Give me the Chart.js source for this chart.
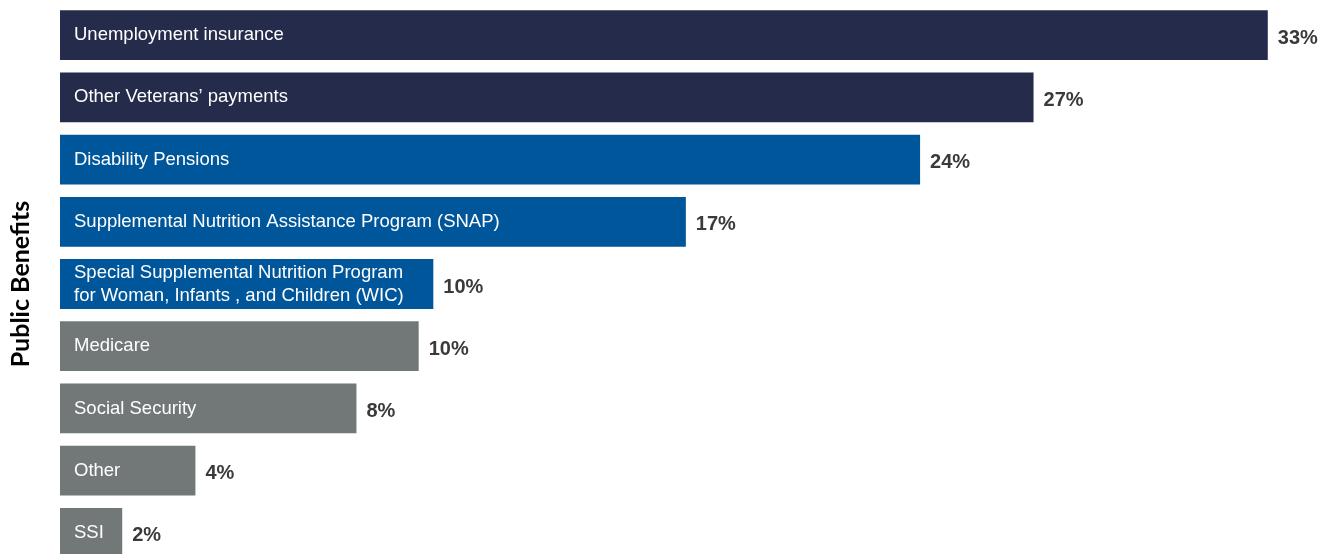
<!DOCTYPE html>
<html>
<head>
<meta charset="utf-8">
<script src="https://cdn.jsdelivr.net/npm/chart.js@4"></script>
<style>
  html, body { margin: 0; padding: 0; background: #ffffff; overflow: hidden; }
  #wrap { position: relative; width: 1333px; height: 566px; }
</style>
</head>
<body>
<div id="wrap"><canvas id="benefitsChart"></canvas></div>
<script>
// --- dados ---
const categories = [
    'Unemployment insurance',
    'Other Veterans\u2019 payments',
    'Disability Pensions',
    'Supplemental Nutrition Assistance Program (SNAP)',
    ['Special Supplemental Nutrition Program', 'for Woman, Infants , and Children (WIC)'],
    'Medicare',
    'Social Security',
    'Other',
    'SSI'
];
const shares = [33.0, 26.6, 23.5, 17.1, 10.2, 9.8, 8.1, 3.7, 1.7];
const shareLabels = ['33%', '27%', '24%', '17%', '10%', '10%', '8%', '4%', '2%'];
const groups = ['navy', 'navy', 'blue', 'blue', 'blue', 'gray', 'gray', 'gray', 'gray'];

const COLORS = { navy: '#252b4a', blue: '#00569a', gray: '#727878' };

// rótulos dentro e à direita das barras
const barLabels = {
    id: 'barLabels',
    afterDatasetsDraw(chart) {
        const ctx = chart.ctx;
        const meta = chart.getDatasetMeta(0);
        ctx.save();
        meta.data.forEach((bar, i) => {
            // nome da categoria, branco, dentro da barra
            const lines = Array.isArray(categories[i]) ? categories[i] : [categories[i]];
            ctx.fillStyle = '#ffffff';
            ctx.font = '18.5px "Liberation Sans", Arial, sans-serif';
            ctx.textAlign = 'left';
            ctx.textBaseline = 'middle';
            const lh = 23;
            const y0 = bar.y - (lines.length - 1) * lh / 2;
            lines.forEach((ln, k) => ctx.fillText(ln, bar.base + 14, y0 + k * lh));

            // percentual
            ctx.fillStyle = '#3a3a3a';
            ctx.font = 'bold 20px "Liberation Sans", Arial, sans-serif';
            ctx.fillText(shareLabels[i], bar.x + 10, bar.y + 3);
        });
        ctx.restore();
    }
};

const ctx = document.getElementById('benefitsChart').getContext('2d');
const chart = new Chart(ctx, {
    type: 'bar',
    data: {
        labels: categories,
        datasets: [{
            data: shares,
            backgroundColor: groups.map(g => COLORS[g]),
            borderWidth: 0,
            barPercentage: 0.8,
            categoryPercentage: 1.0
        }]
    },
    options: {
        indexAxis: 'y',
        responsive: true,
        maintainAspectRatio: false,
        animation: false,
        layout: { padding: { top: 4, bottom: 2, right: 3, left: 0 } },
        scales: {
            x: {
                display: false,
                min: 0,
                max: 34.7
            },
            y: {
                grid: { display: false },
                border: { display: false },
                ticks: { display: false },
                title: {
                    display: true,
                    text: 'Public Benefits',
                    color: '#000000',
                    font: { family: 'Lato, "Open Sans", sans-serif', size: 25, weight: 'bold' },
                    padding: { top: 6, bottom: 0 }
                },
                afterFit(scale) { scale.width = 60; }
            }
        },
        plugins: {
            legend: { display: false },
            tooltip: { enabled: false }
        }
    },
    plugins: [barLabels]
});
</script>
</body>
</html>
